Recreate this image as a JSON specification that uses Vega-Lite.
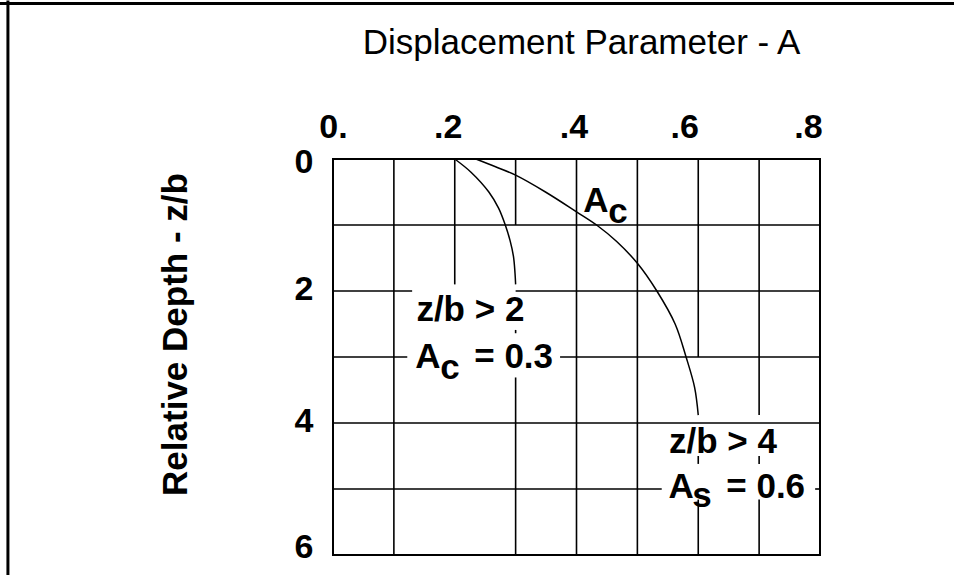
{
  "$schema": "https://vega.github.io/schema/vega-lite/v6.json",
  "autosize": {"type": "none"},
  "width": 487,
  "height": 396,
  "padding": {"left": 333, "top": 159, "right": 134, "bottom": 20},
  "background": "white",
  "config": {"view": {"stroke": "#000", "strokeWidth": 2}, "font": "Liberation Sans"},
  "datasets": {
    "vgrid": [
      {"A": 0.1, "z1": 0, "z2": 6},
      {"A": 0.2, "z1": 0, "z2": 1.9},
      {"A": 0.3, "z1": 0, "z2": 1.0},
      {"A": 0.3, "z1": 2.59, "z2": 2.64},
      {"A": 0.3, "z1": 3.31, "z2": 6},
      {"A": 0.4, "z1": 0, "z2": 6},
      {"A": 0.5, "z1": 0, "z2": 6},
      {"A": 0.6, "z1": 0, "z2": 3.0},
      {"A": 0.6, "z1": 4.5, "z2": 4.62},
      {"A": 0.6, "z1": 5.16, "z2": 6},
      {"A": 0.7, "z1": 0, "z2": 3.88},
      {"A": 0.7, "z1": 4.5, "z2": 4.62},
      {"A": 0.7, "z1": 5.16, "z2": 6}
    ],
    "hgrid": [
      {"z": 1, "A1": 0, "A2": 0.8},
      {"z": 2, "A1": 0, "A2": 0.13},
      {"z": 2, "A1": 0.3, "A2": 0.8},
      {"z": 3, "A1": 0, "A2": 0.122},
      {"z": 3, "A1": 0.373, "A2": 0.8},
      {"z": 4, "A1": 0, "A2": 0.8},
      {"z": 5, "A1": 0, "A2": 0.54},
      {"z": 5, "A1": 0.792, "A2": 0.8}
    ],
    "curves": [
      {"c": "outer", "A": 0.2347, "z": 0},
      {"c": "outer", "A": 0.267, "z": 0.118},
      {"c": "outer", "A": 0.3, "z": 0.245},
      {"c": "outer", "A": 0.349, "z": 0.5},
      {"c": "outer", "A": 0.4, "z": 0.8},
      {"c": "outer", "A": 0.433, "z": 1.0},
      {"c": "outer", "A": 0.466, "z": 1.25},
      {"c": "outer", "A": 0.5, "z": 1.58},
      {"c": "outer", "A": 0.532, "z": 2.0},
      {"c": "outer", "A": 0.562, "z": 2.5},
      {"c": "outer", "A": 0.58, "z": 3.0},
      {"c": "outer", "A": 0.594, "z": 3.46},
      {"c": "outer", "A": 0.6, "z": 3.88},
      {"c": "inner", "A": 0.2, "z": 0},
      {"c": "inner", "A": 0.2267, "z": 0.2},
      {"c": "inner", "A": 0.256, "z": 0.5},
      {"c": "inner", "A": 0.272, "z": 0.745},
      {"c": "inner", "A": 0.283, "z": 1.0},
      {"c": "inner", "A": 0.291, "z": 1.24},
      {"c": "inner", "A": 0.2965, "z": 1.48},
      {"c": "inner", "A": 0.299, "z": 1.73},
      {"c": "inner", "A": 0.3, "z": 1.9}
    ],
    "labels": [
      {"A": 0.411, "z": 0.8, "t": "A"},
      {"A": 0.452, "z": 0.97, "t": "c"},
      {"A": 0.137, "z": 2.46, "t": "z/b > 2"},
      {"A": 0.135, "z": 3.17, "t": "A"},
      {"A": 0.176, "z": 3.33, "t": "c"},
      {"A": 0.232, "z": 3.17, "t": "= 0.3"},
      {"A": 0.552, "z": 4.46, "t": "z/b > 4"},
      {"A": 0.551, "z": 5.13, "t": "A"},
      {"A": 0.59, "z": 5.27, "t": "s"},
      {"A": 0.646, "z": 5.13, "t": "= 0.6"}
    ],
    "frame": [
      {"x1": -0.56, "x2": 1.03, "y1": -2.356, "y2": -2.356},
      {"x1": -0.534, "x2": -0.534, "y1": -2.4, "y2": 6.4}
    ]
  },
  "layer": [
    {
      "data": {"name": "vgrid"},
      "mark": {"type": "rule", "color": "#000", "strokeWidth": 1.6},
      "encoding": {
        "x": {
          "field": "A", "type": "quantitative",
          "scale": {"domain": [0, 0.8], "nice": false, "zero": false},
          "axis": {
            "orient": "top",
            "values": [0, 0.2, 0.4, 0.6, 0.8],
            "labelExpr": "datum.value == 0 ? '0.' : '.' + round(datum.value*10)",
            "domain": false, "ticks": false, "tickSize": 0, "grid": false,
            "labelFont": "Liberation Sans", "labelFontSize": 34, "labelFontWeight": "bold",
            "labelColor": "#000", "labelPadding": 22, "labelBaseline": "alphabetic",
            "labelAlign": "center", "labelFlush": false, "labelOverlap": false,
            "labelOffset": {
              "condition": [
                {"test": "datum.value == 0", "value": 0},
                {"test": "datum.value == 0.2", "value": -7},
                {"test": "datum.value == 0.4", "value": -3},
                {"test": "datum.value == 0.6", "value": -14}
              ],
              "value": -12
            },
            "title": "Displacement Parameter - A",
            "titleFont": "Liberation Sans", "titleFontSize": 35, "titleFontWeight": "normal",
            "titleColor": "#000", "titleX": 248, "titleY": -106,
            "titleBaseline": "alphabetic", "titleAlign": "center"
          }
        },
        "y": {
          "field": "z1", "type": "quantitative",
          "scale": {"domain": [0, 6], "reverse": true, "nice": false, "zero": false},
          "axis": {
            "orient": "left",
            "values": [0, 2, 4, 6],
            "format": "d",
            "domain": false, "ticks": false, "tickSize": 0, "grid": false,
            "labelFont": "Liberation Sans", "labelFontSize": 34, "labelFontWeight": "bold",
            "labelColor": "#000", "labelPadding": 20, "labelBaseline": "middle",
            "labelAlign": "right", "labelFlush": false, "labelOverlap": false,
            "labelOffset": {
              "condition": [
                {"test": "datum.value == 0", "value": 3},
                {"test": "datum.value == 6", "value": -8}
              ],
              "value": -2
            },
            "title": "Relative Depth - z/b",
            "titleFont": "Liberation Sans", "titleFontSize": 35, "titleFontWeight": "bold",
            "titleColor": "#000", "titleAngle": -90, "titleX": -147, "titleY": 175,
            "titleBaseline": "alphabetic", "titleAlign": "center"
          }
        },
        "y2": {"field": "z2"}
      }
    },
    {
      "data": {"name": "hgrid"},
      "mark": {"type": "rule", "color": "#000", "strokeWidth": 1.6},
      "encoding": {
        "x": {"field": "A1", "type": "quantitative", "scale": {"domain": [0, 0.8], "nice": false, "zero": false}},
        "x2": {"field": "A2"},
        "y": {"field": "z", "type": "quantitative", "scale": {"domain": [0, 6], "reverse": true, "nice": false, "zero": false}}
      }
    },
    {
      "data": {"name": "curves"},
      "mark": {"type": "line", "color": "#000", "strokeWidth": 1.5, "interpolate": "catmull-rom"},
      "encoding": {
        "x": {"field": "A", "type": "quantitative", "scale": {"domain": [0, 0.8], "nice": false, "zero": false}},
        "y": {"field": "z", "type": "quantitative", "scale": {"domain": [0, 6], "reverse": true, "nice": false, "zero": false}},
        "detail": {"field": "c", "type": "nominal"}
      }
    },
    {
      "data": {"name": "labels"},
      "mark": {"type": "text", "align": "left", "baseline": "alphabetic", "font": "Liberation Sans", "fontSize": 35, "fontWeight": "bold", "color": "#000"},
      "encoding": {
        "x": {"field": "A", "type": "quantitative", "scale": {"domain": [0, 0.8], "nice": false, "zero": false}},
        "y": {"field": "z", "type": "quantitative", "scale": {"domain": [0, 6], "reverse": true, "nice": false, "zero": false}},
        "text": {"field": "t", "type": "nominal"}
      }
    },
    {
      "data": {"name": "frame"},
      "mark": {"type": "rule", "color": "#000", "strokeWidth": 3},
      "encoding": {
        "x": {"field": "x1", "type": "quantitative", "scale": {"domain": [0, 0.8], "nice": false, "zero": false}},
        "x2": {"field": "x2"},
        "y": {"field": "y1", "type": "quantitative", "scale": {"domain": [0, 6], "reverse": true, "nice": false, "zero": false}},
        "y2": {"field": "y2"}
      }
    }
  ]
}
